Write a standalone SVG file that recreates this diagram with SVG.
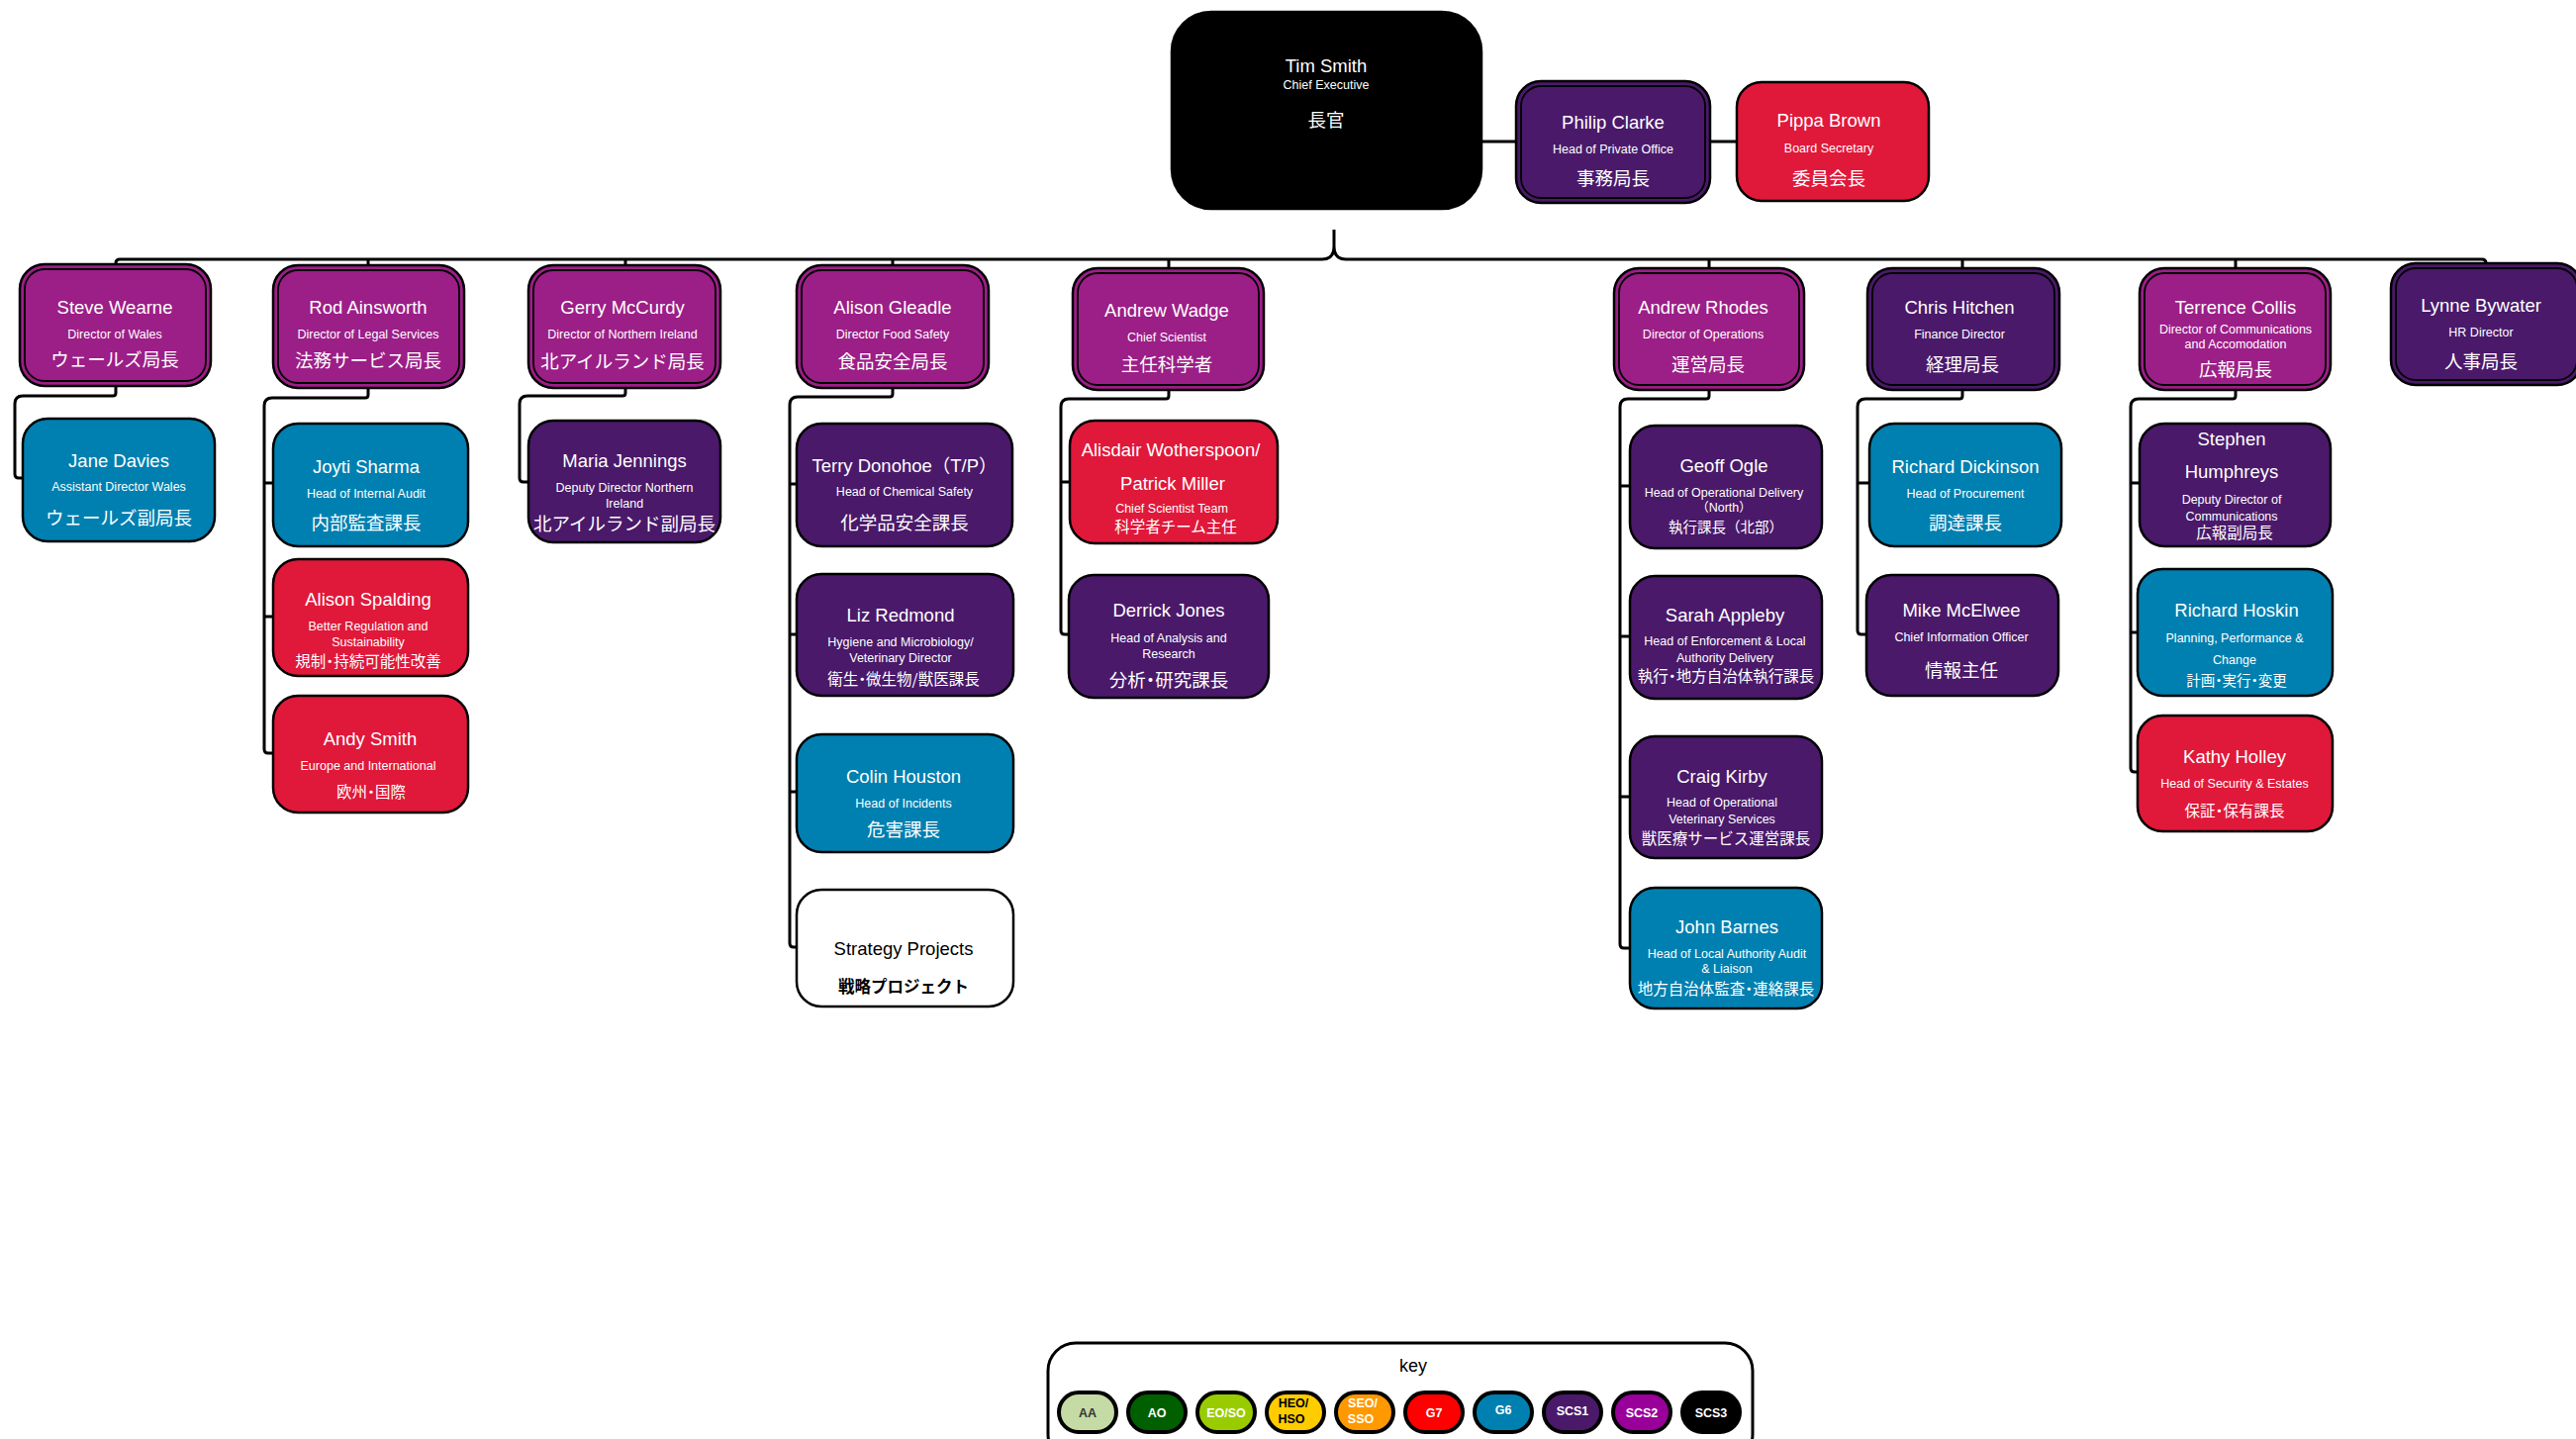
<svg xmlns="http://www.w3.org/2000/svg" width="2603" height="1454" viewBox="0 0 2603 1454">
<style>
  .box { stroke: #000; stroke-width: 2.5; }
  .inner { fill: none; stroke: #000; stroke-width: 1.8; }
  .scs3 { fill: #000; }
  .scs2 { fill: #9C1E87; }
  .scs1 { fill: #4A196A; }
  .g7 { fill: #E0183A; }
  .g6 { fill: #0080B0; }
  .plain { fill: #fff; }
  text { text-anchor: middle; fill: #fff; font-family: "Liberation Sans", "Noto Sans CJK JP", sans-serif; }
  .n { font-size: 18.5px; }
  .s { font-size: 12.5px; }
  .j { font-size: 18.5px; font-family: "Noto Sans CJK JP", sans-serif; }
  .js { font-size: 15.5px; font-family: "Noto Sans CJK JP", sans-serif; }
  .jxs { font-size: 14.5px; font-family: "Noto Sans CJK JP", sans-serif; }
  .jb { font-size: 16.5px; font-weight: bold; font-family: "Noto Sans CJK JP", sans-serif; }
  .dot { font-feature-settings: "halt"; }
  text.dark { fill: #000; }
  text.grey { fill: #333; }
  .conn { fill: none; stroke: #000; stroke-width: 3; stroke-linejoin: round; }
  .keyframe { fill: #fff; stroke: #000; stroke-width: 3; }
  .chip { stroke: #000; stroke-width: 4; }
  .k { font-size: 12.5px; font-weight: bold; }
</style>

<!-- connectors -->
<g id="connectors" class="conn">
  <!-- executive to private office and board secretary -->
  <path d="M1497,143 H1532 M1728,143 H1755"/>
  <!-- brace under the chief executive and the directors' bar -->
  <path d="M117,267 V266 Q117,262 121,262 H1336 Q1348,262 1348,249 V232 M1348,249 Q1348,262 1360,262 H2508 Q2512,262 2512,266"/>
  <path d="M372,262 V268 M632,262 V268 M902,262 V268 M1181,262 V271 M1727,262 V271 M1983,262 V271 M2259,262 V271"/>
  <!-- Wales -->
  <path d="M117,390 V397 Q117,400 114,400 H23 Q15,400 15,408 V479 Q15,483 19,483 H23"/>
  <!-- Legal -->
  <path d="M372,392 V399 Q372,402 369,402 H275 Q267,402 267,410 V757 Q267,761 271,761 H276 M267,488 H276 M267,623 H276"/>
  <!-- Northern Ireland -->
  <path d="M632,392 V397 Q632,400 629,400 H533 Q525,400 525,408 V483 Q525,487 529,487 H534"/>
  <!-- Food Safety -->
  <path d="M902,392 V398 Q902,401 899,401 H806 Q798,401 798,409 V953 Q798,957 802,957 H805 M798,489 H805 M798,641 H805 M798,800 H805"/>
  <!-- Chief Scientist -->
  <path d="M1181,394 V400 Q1181,403 1178,403 H1080 Q1072,403 1072,411 V637 Q1072,641 1076,641 H1080 M1072,487 H1081"/>
  <!-- Operations -->
  <path d="M1727,394 V400 Q1727,403 1724,403 H1645 Q1637,403 1637,411 V954 Q1637,958 1641,958 H1647 M1637,491 H1647 M1637,643 H1647 M1637,805 H1647"/>
  <!-- Finance -->
  <path d="M1983,394 V400 Q1983,403 1980,403 H1885 Q1877,403 1877,411 V637 Q1877,641 1881,641 H1886 M1877,488 H1889"/>
  <!-- Communications -->
  <path d="M2259,394 V400 Q2259,403 2256,403 H2161 Q2153,403 2153,411 V776 Q2153,780 2157,780 H2160 M2153,488 H2162 M2153,639 H2160"/>
</g>

<!-- top level -->
<g id="tim-smith">
  <rect class="box scs3" x="1184" y="12" width="313" height="199" rx="40"/>
  <text class="n" x="1340" y="73">Tim Smith</text>
  <text class="s" x="1340" y="90">Chief Executive</text>
  <text class="j" x="1340" y="128">長官</text>
</g>
<g id="philip-clarke">
  <rect class="box scs1" x="1532" y="82" width="196" height="123" rx="25"/>
  <rect class="inner" x="1537" y="87" width="186" height="113" rx="20"/>
  <text class="n" x="1630" y="130">Philip Clarke</text>
  <text class="s" x="1630" y="155">Head of Private Office</text>
  <text class="j" x="1630" y="187">事務局長</text>
</g>
<g id="pippa-brown">
  <rect class="box g7" x="1755" y="83" width="194" height="120" rx="25"/>
  <text class="n" x="1848" y="128">Pippa Brown</text>
  <text class="s" x="1848" y="154">Board Secretary</text>
  <text class="j" x="1848" y="187">委員会長</text>
</g>

<!-- directors -->
<g id="steve-wearne">
  <rect class="box scs2" x="20" y="267" width="193" height="123" rx="25"/>
  <rect class="inner" x="25" y="272" width="183" height="113" rx="20"/>
  <text class="n" x="116" y="317">Steve Wearne</text>
  <text class="s" x="116" y="342">Director of Wales</text>
  <text class="j" x="116" y="370">ウェールズ局長</text>
</g>
<g id="rod-ainsworth">
  <rect class="box scs2" x="276" y="268" width="193" height="124" rx="25"/>
  <rect class="inner" x="281" y="273" width="183" height="114" rx="20"/>
  <text class="n" x="372" y="317">Rod Ainsworth</text>
  <text class="s" x="372" y="342">Director of Legal Services</text>
  <text class="j" x="372" y="371">法務サービス局長</text>
</g>
<g id="gerry-mccurdy">
  <rect class="box scs2" x="534" y="268" width="194" height="124" rx="25"/>
  <rect class="inner" x="539" y="273" width="184" height="114" rx="20"/>
  <text class="n" x="629" y="317">Gerry McCurdy</text>
  <text class="s" x="629" y="342">Director of Northern Ireland</text>
  <text class="j" x="629" y="372">北アイルランド局長</text>
</g>
<g id="alison-gleadle">
  <rect class="box scs2" x="805" y="268" width="194" height="124" rx="25"/>
  <rect class="inner" x="810" y="273" width="184" height="114" rx="20"/>
  <text class="n" x="902" y="317">Alison Gleadle</text>
  <text class="s" x="902" y="342">Director Food Safety</text>
  <text class="j" x="902" y="372">食品安全局長</text>
</g>
<g id="andrew-wadge">
  <rect class="box scs2" x="1084" y="271" width="193" height="123" rx="25"/>
  <rect class="inner" x="1089" y="276" width="183" height="113" rx="20"/>
  <text class="n" x="1179" y="320">Andrew Wadge</text>
  <text class="s" x="1179" y="345">Chief Scientist</text>
  <text class="j" x="1179" y="375">主任科学者</text>
</g>
<g id="andrew-rhodes">
  <rect class="box scs2" x="1631" y="271" width="192" height="123" rx="25"/>
  <rect class="inner" x="1636" y="276" width="182" height="113" rx="20"/>
  <text class="n" x="1721" y="317">Andrew Rhodes</text>
  <text class="s" x="1721" y="342">Director of Operations</text>
  <text class="j" x="1726" y="375">運営局長</text>
</g>
<g id="chris-hitchen">
  <rect class="box scs1" x="1887" y="271" width="194" height="123" rx="25"/>
  <rect class="inner" x="1892" y="276" width="184" height="113" rx="20"/>
  <text class="n" x="1980" y="317">Chris Hitchen</text>
  <text class="s" x="1980" y="342">Finance Director</text>
  <text class="j" x="1983" y="375">経理局長</text>
</g>
<g id="terrence-collis">
  <rect class="box scs2" x="2162" y="271" width="193" height="123" rx="25"/>
  <rect class="inner" x="2167" y="276" width="183" height="113" rx="20"/>
  <text class="n" x="2259" y="317">Terrence Collis</text>
  <text class="s" x="2259" y="337">Director of Communications</text>
  <text class="s" x="2259" y="352">and Accomodation</text>
  <text class="j" x="2259" y="380">広報局長</text>
</g>
<g id="lynne-bywater">
  <rect class="box scs1" x="2416" y="266" width="193" height="123" rx="25"/>
  <rect class="inner" x="2421" y="271" width="183" height="113" rx="20"/>
  <text class="n" x="2507" y="315">Lynne Bywater</text>
  <text class="s" x="2507" y="340">HR Director</text>
  <text class="j" x="2507" y="372">人事局長</text>
</g>

<!-- Wales -->
<g id="jane-davies">
  <rect class="box g6" x="23" y="423" width="194" height="124" rx="25"/>
  <text class="n" x="120" y="472">Jane Davies</text>
  <text class="s" x="120" y="496">Assistant Director Wales</text>
  <text class="j" x="120" y="530">ウェールズ副局長</text>
</g>

<!-- Legal -->
<g id="joyti-sharma">
  <rect class="box g6" x="276" y="428" width="197" height="124" rx="25"/>
  <text class="n" x="370" y="478">Joyti Sharma</text>
  <text class="s" x="370" y="503">Head of Internal Audit</text>
  <text class="j" x="370" y="535">内部監査課長</text>
</g>
<g id="alison-spalding">
  <rect class="box g7" x="276" y="565" width="197" height="118" rx="25"/>
  <text class="n" x="372" y="612">Alison Spalding</text>
  <text class="s" x="372" y="637">Better Regulation and</text>
  <text class="s" x="372" y="653">Sustainability</text>
  <text class="js" x="372" y="674">規制<tspan class="dot">・</tspan>持続可能性改善</text>
</g>
<g id="andy-smith">
  <rect class="box g7" x="276" y="703" width="197" height="118" rx="25"/>
  <text class="n" x="374" y="753">Andy Smith</text>
  <text class="s" x="372" y="778">Europe and International</text>
  <text class="js" x="375" y="806">欧州<tspan class="dot">・</tspan>国際</text>
</g>

<!-- Northern Ireland -->
<g id="maria-jennings">
  <rect class="box scs1" x="534" y="425" width="194" height="123" rx="25"/>
  <text class="n" x="631" y="472">Maria Jennings</text>
  <text class="s" x="631" y="497">Deputy Director Northern</text>
  <text class="s" x="631" y="513">Ireland</text>
  <text class="j" x="631" y="536">北アイルランド副局長</text>
</g>

<!-- Food Safety -->
<g id="terry-donohoe">
  <rect class="box scs1" x="805" y="428" width="218" height="124" rx="25"/>
  <text class="n" x="914" y="477">Terry Donohoe（T/P）</text>
  <text class="s" x="914" y="501">Head of Chemical Safety</text>
  <text class="j" x="914" y="535">化学品安全課長</text>
</g>
<g id="liz-redmond">
  <rect class="box scs1" x="805" y="580" width="219" height="123" rx="25"/>
  <text class="n" x="910" y="628">Liz Redmond</text>
  <text class="s" x="910" y="653">Hygiene and Microbiology/</text>
  <text class="s" x="910" y="669">Veterinary Director</text>
  <text class="js" x="913" y="692">衛生<tspan class="dot">・</tspan>微生物/獣医課長</text>
</g>
<g id="colin-houston">
  <rect class="box g6" x="805" y="742" width="219" height="119" rx="25"/>
  <text class="n" x="913" y="791">Colin Houston</text>
  <text class="s" x="913" y="816">Head of Incidents</text>
  <text class="j" x="913" y="845">危害課長</text>
</g>
<g id="strategy-projects">
  <rect class="box plain" x="805" y="899" width="219" height="118" rx="25"/>
  <text class="n dark" x="913" y="965">Strategy Projects</text>
  <text class="jb dark" x="913" y="1003">戦略プロジェクト</text>
</g>

<!-- Chief Scientist -->
<g id="alisdair-wotherspoon">
  <rect class="box g7" x="1081" y="425" width="210" height="124" rx="25"/>
  <text class="n" x="1183" y="461">Alisdair Wotherspoon/</text>
  <text class="n" x="1185" y="495">Patrick Miller</text>
  <text class="s" x="1184" y="518">Chief Scientist Team</text>
  <text class="js" x="1188" y="538">科学者チーム主任</text>
</g>
<g id="derrick-jones">
  <rect class="box scs1" x="1080" y="581" width="202" height="124" rx="25"/>
  <text class="n" x="1181" y="623">Derrick Jones</text>
  <text class="s" x="1181" y="649">Head of Analysis and</text>
  <text class="s" x="1181" y="665">Research</text>
  <text class="j" x="1181" y="694">分析<tspan class="dot">・</tspan>研究課長</text>
</g>

<!-- Operations -->
<g id="geoff-ogle">
  <rect class="box scs1" x="1647" y="430" width="194" height="124" rx="25"/>
  <text class="n" x="1742" y="477">Geoff Ogle</text>
  <text class="s" x="1742" y="502">Head of Operational Delivery</text>
  <text class="s" x="1742" y="517">（North）</text>
  <text class="jxs" x="1744" y="538">執行課長（北部）</text>
</g>
<g id="sarah-appleby">
  <rect class="box scs1" x="1647" y="582" width="194" height="124" rx="25"/>
  <text class="n" x="1743" y="628">Sarah Appleby</text>
  <text class="s" x="1743" y="652">Head of Enforcement &amp; Local</text>
  <text class="s" x="1743" y="669">Authority Delivery</text>
  <text class="js" x="1744" y="689">執行<tspan class="dot">・</tspan>地方自治体執行課長</text>
</g>
<g id="craig-kirby">
  <rect class="box scs1" x="1647" y="744" width="194" height="123" rx="25"/>
  <text class="n" x="1740" y="791">Craig Kirby</text>
  <text class="s" x="1740" y="815">Head of Operational</text>
  <text class="s" x="1740" y="832">Veterinary Services</text>
  <text class="js" x="1744" y="853">獣医療サービス運営課長</text>
</g>
<g id="john-barnes">
  <rect class="box g6" x="1647" y="897" width="194" height="122" rx="25"/>
  <text class="n" x="1745" y="943">John Barnes</text>
  <text class="s" x="1745" y="968">Head of Local Authority Audit</text>
  <text class="s" x="1745" y="983">&amp; Liaison</text>
  <text class="js" x="1744" y="1005">地方自治体監査<tspan class="dot">・</tspan>連絡課長</text>
</g>

<!-- Finance -->
<g id="richard-dickinson">
  <rect class="box g6" x="1889" y="428" width="194" height="124" rx="25"/>
  <text class="n" x="1986" y="478">Richard Dickinson</text>
  <text class="s" x="1986" y="503">Head of Procurement</text>
  <text class="j" x="1986" y="535">調達課長</text>
</g>
<g id="mike-mcelwee">
  <rect class="box scs1" x="1886" y="581" width="194" height="122" rx="25"/>
  <text class="n" x="1982" y="623">Mike McElwee</text>
  <text class="s" x="1982" y="648">Chief Information Officer</text>
  <text class="j" x="1982" y="684">情報主任</text>
</g>

<!-- Communications -->
<g id="stephen-humphreys">
  <rect class="box scs1" x="2162" y="428" width="193" height="124" rx="25"/>
  <text class="n" x="2255" y="450">Stephen</text>
  <text class="n" x="2255" y="483">Humphreys</text>
  <text class="s" x="2255" y="509">Deputy Director of</text>
  <text class="s" x="2255" y="526">Communications</text>
  <text class="js" x="2258" y="544">広報副局長</text>
</g>
<g id="richard-hoskin">
  <rect class="box g6" x="2160" y="575" width="197" height="128" rx="25"/>
  <text class="n" x="2260" y="623">Richard Hoskin</text>
  <text class="s" x="2258" y="649">Planning, Performance &amp;</text>
  <text class="s" x="2258" y="671">Change</text>
  <text class="jxs" x="2260" y="693">計画<tspan class="dot">・</tspan>実行<tspan class="dot">・</tspan>変更</text>
</g>
<g id="kathy-holley">
  <rect class="box g7" x="2160" y="723" width="197" height="117" rx="25"/>
  <text class="n" x="2258" y="771">Kathy Holley</text>
  <text class="s" x="2258" y="796">Head of Security &amp; Estates</text>
  <text class="js" x="2258" y="825">保証<tspan class="dot">・</tspan>保有課長</text>
</g>

<!-- grade key -->
<g id="key">
  <rect class="keyframe" x="1059" y="1357" width="712" height="120" rx="28"/>
  <text class="dark" x="1428" y="1386" style="font-size:18px">key</text>
  <rect class="chip" x="1070" y="1407" width="58" height="40" rx="20" fill="#C5DBA5"/>
  <text class="k grey" x="1099" y="1432">AA</text>
  <rect class="chip" x="1140" y="1407" width="58" height="40" rx="20" fill="#006000"/>
  <text class="k" x="1169" y="1432">AO</text>
  <rect class="chip" x="1210" y="1407" width="58" height="40" rx="20" fill="#99CC00"/>
  <text class="k" x="1239" y="1432">EO/SO</text>
  <rect class="chip" x="1280" y="1407" width="58" height="40" rx="20" fill="#FFCC00"/>
  <text class="k dark" x="1307" y="1422">HEO/</text>
  <text class="k dark" x="1305" y="1438">HSO</text>
  <rect class="chip" x="1350" y="1407" width="58" height="40" rx="20" fill="#FF9900"/>
  <text class="k" x="1377" y="1422">SEO/</text>
  <text class="k" x="1375" y="1438">SSO</text>
  <rect class="chip" x="1420" y="1407" width="58" height="40" rx="20" fill="#FF0000"/>
  <text class="k" x="1449" y="1432">G7</text>
  <rect class="chip" x="1490" y="1407" width="58" height="40" rx="20" fill="#0080B0"/>
  <text class="k" x="1519" y="1429">G6</text>
  <rect class="chip" x="1560" y="1407" width="58" height="40" rx="20" fill="#4A196A"/>
  <text class="k" x="1589" y="1430">SCS1</text>
  <rect class="chip" x="1630" y="1407" width="58" height="40" rx="20" fill="#990099"/>
  <text class="k" x="1659" y="1432">SCS2</text>
  <rect class="chip" x="1700" y="1407" width="58" height="40" rx="20" fill="#000"/>
  <text class="k" x="1729" y="1432">SCS3</text>
</g>
</svg>
